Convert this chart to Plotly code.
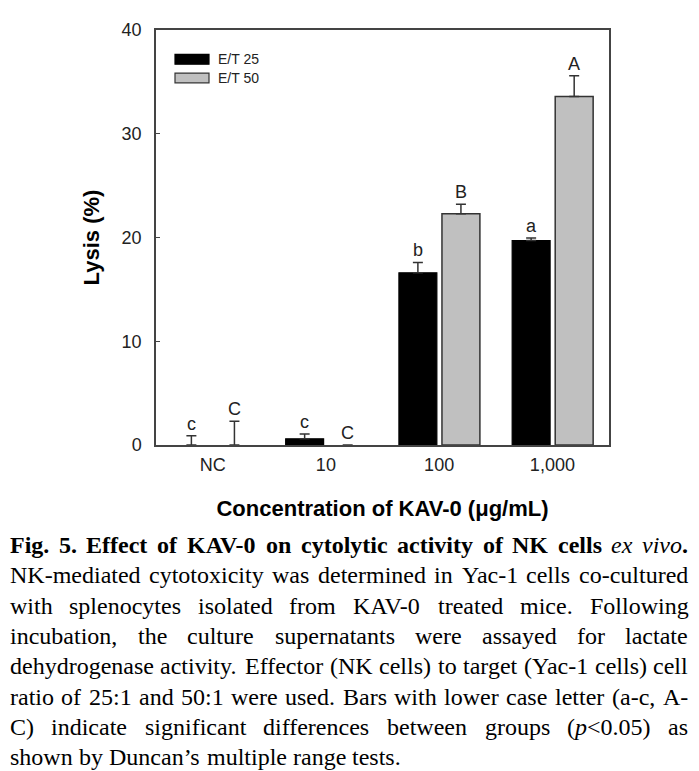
import plotly.graph_objects as go

# ---------------- data ----------------
categories = ["NC", "10", "100", "1,000"]
series_names = ["E/T 25", "E/T 50"]
et25 = [0.0, 0.6, 16.6, 19.7]
et25_err = [0.9, 0.45, 1.0, 0.25]
et50 = [0.0, 0.0, 22.3, 33.6]
et50_err = [2.3, 0.0, 0.9, 2.0]
letters25 = ["c", "c", "b", "a"]
letters50 = ["C", "C", "B", "A"]
yticks = [0, 10, 20, 30, 40]

# ---------------- layout constants ----------------
PAGE_OFF = 8                      # browser body margin
W, H = 699 - PAGE_OFF, 771 - PAGE_OFF
PL, PT, PW, PH = 156, 21, 453, 424   # plot area in page pixels
ML, MT = PL - PAGE_OFF, PT - PAGE_OFF
MR, MB = W - ML - PW, H - MT - PH
SANS = "Liberation Sans, Arial, sans-serif"
SERIF = "Liberation Serif, Times New Roman, serif"
BAR_W = 0.335
OFF25, OFF50 = -0.355, 0.025
FRAME = "#444444"


def px2x(px):
    return (px - PL) / PW


def py2y(py):
    return (PT + PH - py) / PH


xs = list(range(len(categories)))


def outline(vals, w):
    # zero-height bars get no outline (none visible in the original)
    return [w if v > 0 else 0 for v in vals]


fig = go.Figure()
fig.add_trace(go.Bar(
    x=xs, y=et25, name=series_names[0], width=BAR_W, offset=OFF25,
    marker=dict(color="black", line=dict(color="black", width=outline(et25, 1.2))),
    error_y=dict(type="data", symmetric=False, array=et25_err,
                 arrayminus=[0] * len(et25), color="#333333", thickness=1.5, width=5),
    showlegend=False,
))
fig.add_trace(go.Bar(
    x=xs, y=et50, name=series_names[1], width=BAR_W, offset=OFF50,
    marker=dict(color="#c0c0c0", line=dict(color="#333333", width=outline(et50, 1.5))),
    error_y=dict(type="data", symmetric=False, array=et50_err,
                 arrayminus=[0] * len(et50), color="#333333", thickness=1.5, width=5),
    showlegend=False,
))

annotations = []
# significance letters
for i in xs:
    for vals, errs, lets, off in ((et25, et25_err, letters25, OFF25),
                                  (et50, et50_err, letters50, OFF50)):
        annotations.append(dict(
            x=i + off + BAR_W / 2, y=vals[i] + errs[i], xref="x", yref="y",
            text=lets[i], showarrow=False, yanchor="bottom", xanchor="center",
            yshift=1, borderpad=0,
            font=dict(family=SANS, size=18, color="#222222")))

# manual legend
shapes = []
legend_rows = [(series_names[0], "black", "black", 51),
               (series_names[1], "#c0c0c0", "#333333", 70)]
for name, fill, edge, cy in legend_rows:
    shapes.append(dict(type="rect", xref="paper", yref="paper",
                       x0=px2x(175), x1=px2x(209), y0=py2y(cy - 5), y1=py2y(cy + 5),
                       fillcolor=fill, line=dict(color=edge, width=1.2)))
    annotations.append(dict(x=px2x(217), y=py2y(cy), xref="paper", yref="paper",
                            text=name, showarrow=False, xanchor="left", yanchor="middle",
                            borderpad=0, font=dict(family=SANS, size=14, color="#222222")))

# ---------------- caption (justified, Times metrics) ----------------
REG = dict(zip("abcdefghijklmnopqrstuvwxyz",
               [444, 500, 444, 500, 444, 333, 500, 500, 278, 278, 500, 278, 778,
                500, 500, 500, 500, 333, 389, 278, 500, 500, 722, 500, 500, 444]))
REG.update(dict(zip("ABCDEFGHIJKLMNOPQRSTUVWXYZ",
                    [722, 667, 667, 722, 611, 556, 722, 722, 333, 389, 722, 611, 889,
                     722, 722, 556, 722, 667, 556, 611, 722, 722, 944, 722, 722, 611])))
REG.update({c: 500 for c in "0123456789"})
REG.update({" ": 250, ".": 250, ",": 250, "-": 333, "(": 333, ")": 333,
            ":": 278, "<": 564, "\u2019": 333, "/": 278})
BOLD = dict(zip("abcdefghijklmnopqrstuvwxyz",
                [500, 556, 444, 556, 444, 333, 500, 556, 278, 333, 556, 278, 833,
                 556, 500, 556, 556, 444, 389, 333, 556, 500, 722, 500, 500, 444]))
BOLD.update({"A": 722, "E": 667, "F": 611, "K": 778, "N": 722, "V": 722})
BOLD.update({c: 500 for c in "0123456789"})
BOLD.update({" ": 250, ".": 250, "-": 333})
ITAL = dict(REG)
ITAL.update({"e": 444, "x": 444, "v": 444, "i": 278, "o": 500, "p": 500})
TABLES = {"r": REG, "b": BOLD, "i": ITAL}
KERN = {"AV": -130, "Ya": -100, "Fo": -15}


def plain_words(s):
    return [[(w, "r")] for w in s.split(" ")]


caption_lines = [
    [[("Fig.", "b")], [("5.", "b")], [("Effect", "b")], [("of", "b")],
     [("KAV-0", "b")], [("on", "b")], [("cytolytic", "b")], [("activity", "b")],
     [("of", "b")], [("NK", "b")], [("cells", "b")], [("ex", "i")],
     [("vivo", "i"), (".", "b")]],
    plain_words("NK-mediated cytotoxicity was determined in Yac-1 cells co-cultured"),
    plain_words("with splenocytes isolated from KAV-0 treated mice. Following"),
    plain_words("incubation, the culture supernatants were assayed for lactate"),
    plain_words("dehydrogenase activity. Effector (NK cells) to target (Yac-1 cells) cell"),
    plain_words("ratio of 25:1 and 50:1 were used. Bars with lower case letter (a-c, A-"),
    plain_words("C) indicate significant differences between groups") +
    [[("(", "r"), ("p", "i"), ("<0.05)", "r")]] + plain_words("as"),
    plain_words("shown by Duncan\u2019s multiple range tests."),
]
CAP_FS = 24
CAP_X0, CAP_X1 = 10, 688
CAP_Y0, CAP_DY = 547, 31.0


def word_html(word):
    out = ""
    for txt, st in word:
        t = txt.replace("<", "&lt;")
        out += {"r": t, "b": "<b>%s</b>" % t, "i": "<i>%s</i>" % t}[st]
    return out


def word_width(word):
    units = sum(TABLES[st][c] for txt, st in word for c in txt)
    flat = "".join(txt for txt, st in word)
    units += sum(KERN.get(flat[k:k + 2], 0) for k in range(len(flat) - 1))
    return units / 1000 * CAP_FS


for li, words in enumerate(caption_lines):
    cy = CAP_Y0 + li * CAP_DY
    widths = [word_width(w) for w in words]
    justify = li < len(caption_lines) - 1
    if justify and len(words) > 1:
        gap = (CAP_X1 - CAP_X0 - sum(widths)) / (len(words) - 1)
    else:
        gap = REG[" "] / 1000 * CAP_FS
    x = CAP_X0
    for w, wd in zip(words, widths):
        annotations.append(dict(
            x=px2x(x), y=py2y(cy), xref="paper", yref="paper", text=word_html(w),
            showarrow=False, xanchor="left", yanchor="middle", borderpad=0, borderwidth=0,
            font=dict(family=SERIF, size=CAP_FS, color="black")))
        x += wd + gap

fig.update_layout(
    width=W, height=H,
    margin=dict(l=ML, r=MR, t=MT, b=MB, pad=0),
    paper_bgcolor="white", plot_bgcolor="white",
    showlegend=False,
    annotations=annotations, shapes=shapes,
    font=dict(family=SANS, color="#222222"),
)
fig.update_xaxes(
    range=[-0.5, len(categories) - 0.5], tickmode="array", tickvals=xs, ticktext=categories,
    ticks="", showgrid=False, zeroline=False, showline=True, mirror=True,
    linecolor=FRAME, linewidth=1.5, ticklabelstandoff=3,
    tickfont=dict(family=SANS, size=18, color="#222222"),
    title=dict(text="<b>Concentration of KAV-0 (\u03bcg/mL)</b>", standoff=26,
               font=dict(family=SANS, size=22, color="black")),
)
fig.update_yaxes(
    range=[0, 40], tickmode="array", tickvals=yticks,
    ticks="inside", ticklen=4, tickwidth=1.2, tickcolor=FRAME,
    showgrid=False, zeroline=False, showline=True, mirror=True,
    linecolor=FRAME, linewidth=1.5, ticklabelstandoff=9,
    tickfont=dict(family=SANS, size=18, color="#222222"),
    title=dict(text="<b>Lysis (%)</b>", standoff=16,
               font=dict(family=SANS, size=22, color="black")),
)

fig.write_html("out.html")
